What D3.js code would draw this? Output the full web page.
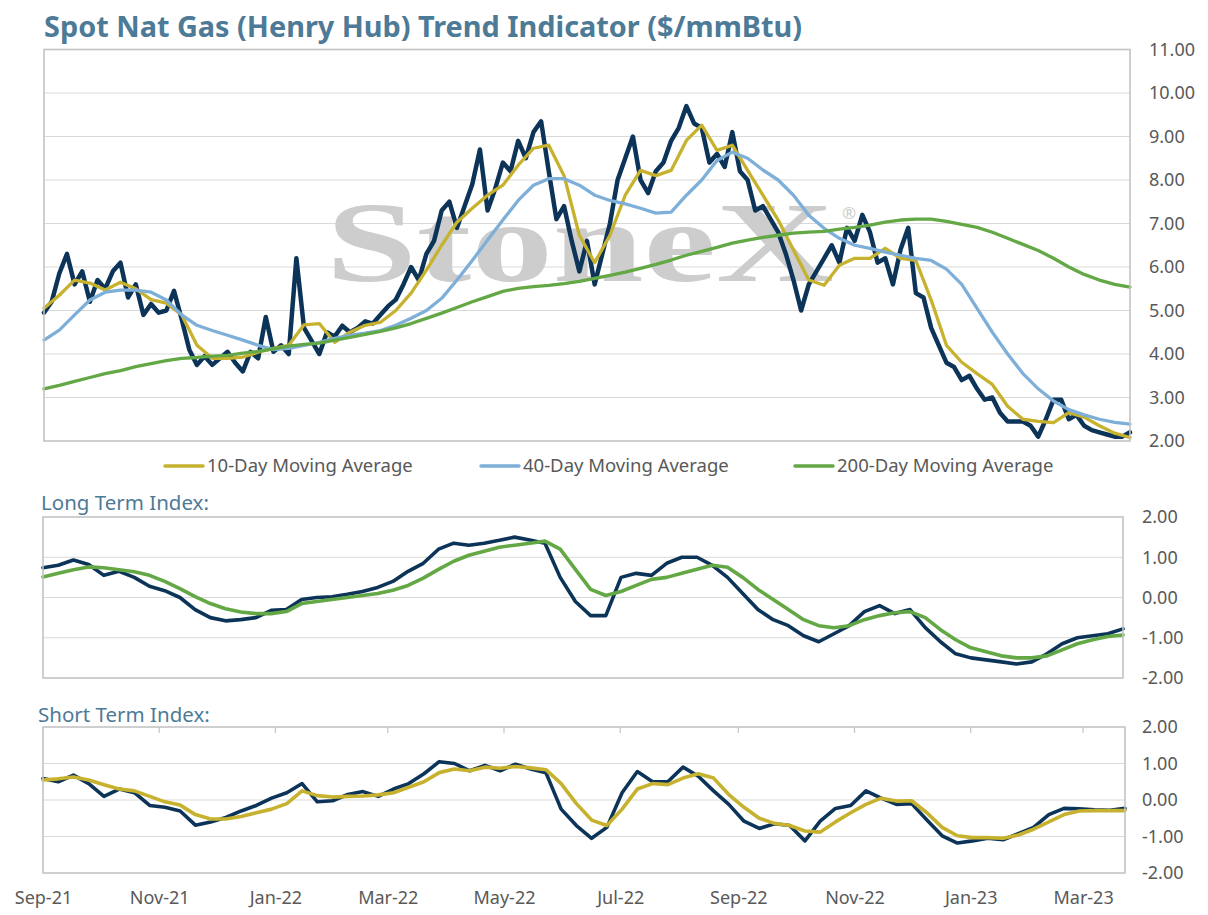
<!DOCTYPE html>
<html>
<head>
<meta charset="utf-8">
<script src="https://cdn.jsdelivr.net/npm/d3@7"></script>
<style>
  body { margin: 0; background: #fff; }
  svg { font-family: "Noto Sans", Lato, sans-serif; }
  .grid line { stroke: #d9d9d9; stroke-width: 1.2; }
  .frame { fill: none; stroke: #c4c4c4; stroke-width: 1.6; }
  .axis text { fill: #595959; font-size: 18px; font-family: "Noto Sans", Lato, sans-serif; }
  .axis path, .axis line { display: none; }
  .series { fill: none; stroke-linejoin: round; stroke-linecap: round; }
  .panel-title { fill: #4d7a96; font-size: 20.5px; }
  .legend text { fill: #595959; font-size: 18.5px; }
</style>
</head>
<body>
<svg id="chart" width="1208" height="915"></svg>
<script>
// ---- data ----
const startDate = new Date(2021, 8, 1);
const endDate = new Date(2023, 2, 23);
const spotStepDays = 4;   // spot price sampled every 4 days
const avgStepDays = 8;    // averages / indexes sampled every 8 days

const spotPrice = [
  4.95, 5.2, 5.85, 6.3, 5.6, 5.9, 5.2, 5.7, 5.5, 5.9,
  6.1, 5.3, 5.6, 4.9, 5.15, 4.95, 5.0, 5.45, 4.8, 4.1,
  3.75, 3.95, 3.75, 3.9, 4.05, 3.8, 3.6, 4.05, 3.9, 4.85,
  4.05, 4.2, 4.0, 6.2, 4.6, 4.3, 4.0, 4.5, 4.4, 4.65,
  4.5, 4.6, 4.75, 4.7, 4.9, 5.1, 5.25, 5.6, 6.0, 5.7,
  6.3, 6.6, 7.3, 7.5, 6.9, 7.4, 7.9, 8.7, 7.3, 7.8,
  8.4, 8.2, 8.9, 8.5, 9.1, 9.35, 8.2, 7.1, 7.4, 6.6,
  5.9, 6.6, 5.6, 6.3, 7.0, 8.0, 8.5, 9.0, 8.0, 7.7,
  8.2, 8.4, 8.9, 9.2, 9.7, 9.3, 9.2, 8.4, 8.6, 8.3,
  9.1, 8.2, 8.0, 7.3, 7.4, 7.1, 6.8, 6.3, 5.7, 5.0,
  5.6, 5.9, 6.2, 6.5, 6.1, 6.9, 6.6, 7.2, 6.8, 6.1,
  6.2, 5.6, 6.4, 6.9, 5.4, 5.3, 4.6, 4.2, 3.8, 3.7,
  3.4, 3.5, 3.2, 2.95, 3.0, 2.65, 2.45, 2.45, 2.45, 2.35,
  2.1, 2.5, 2.95, 2.95, 2.5, 2.6, 2.35, 2.25, 2.2, 2.15,
  2.1, 2.1, 2.2
];

const ma10 = [
  5.05, 5.35, 5.7, 5.63, 5.47, 5.65, 5.5, 5.25, 5.17, 4.9,
  4.2, 3.9, 3.9, 3.93, 4.04, 4.13, 4.2, 4.67, 4.7, 4.27,
  4.5, 4.66, 4.73, 5.0, 5.4, 5.93, 6.5, 7.03, 7.35, 7.65,
  7.88, 8.34, 8.73, 8.8, 8.1, 6.73, 6.1, 6.73, 7.65, 8.22,
  8.1, 8.22, 8.91, 9.26, 8.68, 8.8, 8.22, 7.65, 7.08, 6.39,
  5.7, 5.58, 6.04, 6.2, 6.2, 6.43, 6.2, 6.15, 5.24, 4.2,
  3.81, 3.55, 3.3, 2.8, 2.5, 2.45, 2.42, 2.65, 2.55, 2.35,
  2.18, 2.08
];

const ma40 = [
  4.32, 4.55, 4.9, 5.24, 5.42, 5.47, 5.47, 5.42, 5.24, 4.9,
  4.66, 4.54, 4.43, 4.32, 4.2, 4.1, 4.13, 4.2, 4.27, 4.36,
  4.43, 4.48, 4.54, 4.66, 4.82, 5.0, 5.28, 5.7, 6.15, 6.62,
  7.08, 7.53, 7.88, 8.03, 8.03, 7.88, 7.65, 7.53, 7.45, 7.35,
  7.24, 7.26, 7.65, 8.0, 8.45, 8.64, 8.5, 8.23, 8.0, 7.65,
  7.19, 6.89, 6.66, 6.5, 6.43, 6.34, 6.27, 6.2, 6.15, 5.95,
  5.6, 5.05, 4.5, 4.0, 3.55, 3.2, 2.92, 2.72, 2.6, 2.5,
  2.43, 2.39
];

const ma200 = [
  3.2, 3.28, 3.37, 3.46, 3.55, 3.62, 3.71, 3.78, 3.85, 3.9,
  3.92, 3.95, 3.97, 4.02, 4.06, 4.12, 4.18, 4.22, 4.25, 4.32,
  4.38, 4.45, 4.52, 4.6, 4.7, 4.82, 4.94, 5.07, 5.2, 5.32,
  5.44, 5.51, 5.55, 5.58, 5.62, 5.67, 5.74, 5.81, 5.88, 5.97,
  6.06, 6.16, 6.27, 6.36, 6.45, 6.55, 6.62, 6.68, 6.73, 6.78,
  6.8, 6.82, 6.87, 6.91, 6.96, 7.03, 7.08, 7.1, 7.1, 7.05,
  6.98, 6.91, 6.8, 6.66, 6.52, 6.38, 6.2, 6.0, 5.83, 5.7,
  5.6, 5.54
];

const longTermIdx = [
  0.74, 0.8, 0.93, 0.82, 0.55, 0.65, 0.5, 0.28, 0.17, 0.0,
  -0.3, -0.5, -0.58, -0.55, -0.5, -0.32, -0.3, -0.05, 0.0, 0.02,
  0.08, 0.15, 0.25, 0.4, 0.65, 0.85, 1.2, 1.35, 1.3, 1.35,
  1.42, 1.5, 1.43, 1.35, 0.5, -0.1, -0.45, -0.45, 0.5, 0.6,
  0.55, 0.85, 1.0, 1.0, 0.8, 0.5, 0.1, -0.3, -0.55, -0.7,
  -0.95, -1.1, -0.9, -0.7, -0.35, -0.2, -0.4, -0.3, -0.75, -1.1,
  -1.4, -1.5, -1.55, -1.6, -1.65, -1.6, -1.4, -1.15, -1.0, -0.95,
  -0.9, -0.78
];

const longTermAvg = [
  0.51, 0.6, 0.69, 0.76, 0.74, 0.69, 0.64, 0.55, 0.4, 0.22,
  0.02, -0.15, -0.28, -0.36, -0.4, -0.4, -0.35, -0.15, -0.1, -0.05,
  0.0, 0.05, 0.1, 0.18, 0.3, 0.48, 0.7, 0.9, 1.05, 1.15,
  1.25, 1.3, 1.35, 1.4, 1.2, 0.7, 0.2, 0.05, 0.15, 0.3,
  0.45, 0.5, 0.6, 0.7, 0.8, 0.75, 0.5, 0.2, -0.05, -0.3,
  -0.55, -0.7, -0.75, -0.7, -0.55, -0.45, -0.38, -0.35, -0.5, -0.8,
  -1.05, -1.25, -1.35, -1.45, -1.5, -1.5, -1.45, -1.3, -1.15, -1.05,
  -0.97, -0.93
];

const shortTermIdx = [
  0.59, 0.5, 0.68, 0.45, 0.1, 0.3, 0.2, -0.15, -0.2, -0.3,
  -0.69, -0.6, -0.48, -0.3, -0.15, 0.05, 0.2, 0.45, -0.05, -0.02,
  0.15, 0.23, 0.1, 0.3, 0.45, 0.72, 1.05, 1.0, 0.8, 0.95,
  0.8, 0.98, 0.85, 0.75, -0.25, -0.7, -1.05, -0.75, 0.2, 0.78,
  0.5, 0.5, 0.9, 0.65, 0.25, -0.12, -0.58, -0.78, -0.65, -0.7,
  -1.12, -0.58, -0.23, -0.15, 0.25, 0.05, -0.12, -0.1, -0.55, -0.98,
  -1.18, -1.12, -1.05, -1.09, -0.92, -0.75, -0.4, -0.23, -0.24, -0.27,
  -0.28, -0.23
];

const shortTermAvg = [
  0.55, 0.58, 0.63, 0.55, 0.42, 0.3, 0.25, 0.1, -0.05, -0.14,
  -0.4, -0.52, -0.52, -0.45, -0.35, -0.25, -0.1, 0.25, 0.12, 0.08,
  0.1, 0.11, 0.14, 0.2, 0.35, 0.5, 0.75, 0.85, 0.8, 0.9,
  0.87, 0.92, 0.88, 0.83, 0.45, -0.1, -0.55, -0.7, -0.25, 0.3,
  0.45, 0.42, 0.6, 0.72, 0.6, 0.15, -0.2, -0.5, -0.64, -0.7,
  -0.85, -0.88, -0.6, -0.35, -0.12, 0.05, -0.03, -0.02, -0.35, -0.75,
  -0.98, -1.03, -1.03, -1.05, -0.96, -0.8, -0.6, -0.4, -0.3, -0.29,
  -0.29, -0.29
];

const priceTicks = [2, 3, 4, 5, 6, 7, 8, 9, 10, 11];
const indexTicks = [-2, -1, 0, 1, 2];
const monthTicks = ['2021-09-01', '2021-11-01', '2022-01-01', '2022-03-01', '2022-05-01',
  '2022-07-01', '2022-09-01', '2022-11-01', '2023-01-01', '2023-03-01'];
const legendLabels = ['10-Day Moving Average', '40-Day Moving Average', '200-Day Moving Average'];

// ---- styles / layout ----
const colors = {
  spot: '#0c3458',
  ma10: '#c6b22e',
  ma40: '#7eafd8',
  ma200: '#63a845',
  title: '#4d7a96'
};
const boxes = {
  main: { left: 44, right: 1130, top: 49.5, bottom: 441 },
  long: { left: 43, right: 1123, top: 517, bottom: 678 },
  short: { left: 43, right: 1125, top: 727, bottom: 873 }
};

const svg = d3.select('#chart');
const fmt2 = d => d.toFixed(2);
const parseDay = d3.timeParse('%Y-%m-%d');
const stepDates = (n, step) => d3.range(n).map(i => d3.timeDay.offset(startDate, i * step));

function buildPanel(box, yDomain, yTicks, padding) {
  const x = d3.scaleTime().domain([startDate, endDate]).range([box.left, box.right]);
  const y = d3.scaleLinear().domain(yDomain).range([box.bottom, box.top]);
  const g = svg.append('g');

  g.append('g')
    .attr('class', 'grid')
    .selectAll('line')
    .data(yTicks.slice(1, -1))
    .join('line')
      .attr('x1', box.left)
      .attr('x2', box.right)
      .attr('y1', d => y(d))
      .attr('y2', d => y(d));

  g.append('g')
    .attr('class', 'axis')
    .attr('transform', `translate(${box.right},0)`)
    .call(d3.axisRight(y).tickValues(yTicks).tickFormat(fmt2).tickSize(0).tickPadding(padding));

  return { x, y, g, box };
}

function drawLine(panel, values, step, color, width) {
  const dates = stepDates(values.length, step);
  const line = d3.line()
    .x((d, i) => panel.x(dates[i]))
    .y(d => panel.y(d));
  panel.g.append('path')
    .datum(values)
    .attr('class', 'series')
    .attr('stroke', color)
    .attr('stroke-width', width)
    .attr('d', line);
}

function drawFrame(panel) {
  const b = panel.box;
  panel.g.append('rect')
    .attr('class', 'frame')
    .attr('x', b.left)
    .attr('y', b.top)
    .attr('width', b.right - b.left)
    .attr('height', b.bottom - b.top);
}

// Title
svg.append('text')
  .attr('x', 44)
  .attr('y', 37)
  .attr('fill', colors.title)
  .attr('textLength', 758)
  .attr('lengthAdjust', 'spacingAndGlyphs')
  .style('font-size', '29px')
  .style('font-weight', 'bold')
  .text('Spot Nat Gas (Henry Hub) Trend Indicator ($/mmBtu)');

// Main price panel
const main = buildPanel(boxes.main, [2, 11], priceTicks, 19);

// StoneX watermark
main.g.append('text')
  .attr('x', 326)
  .attr('y', 281)
  .attr('textLength', 508)
  .attr('lengthAdjust', 'spacingAndGlyphs')
  .attr('fill', '#cdcdcd')
  .style('font-family', '"Liberation Serif", "DejaVu Serif", serif')
  .style('font-weight', 'bold')
  .style('font-size', '114px')
  .text('StoneX');
main.g.append('text')
  .attr('x', 842)
  .attr('y', 219)
  .attr('fill', '#cdcdcd')
  .style('font-size', '17px')
  .text('®');

drawLine(main, spotPrice, spotStepDays, colors.spot, 4.5);
drawLine(main, ma10, avgStepDays, colors.ma10, 3.3);
drawLine(main, ma40, avgStepDays, colors.ma40, 3.3);
drawLine(main, ma200, avgStepDays, colors.ma200, 3.3);
drawFrame(main);

// Legend
const legendX = [165, 481, 795];
const legendColors = [colors.ma10, colors.ma40, colors.ma200];
const legend = svg.append('g').attr('class', 'legend');
legendLabels.forEach((label, i) => {
  const item = legend.append('g').attr('transform', `translate(${legendX[i]},466)`);
  item.append('line')
    .attr('x1', 0).attr('x2', 38)
    .attr('stroke', legendColors[i])
    .attr('stroke-width', 3.5)
    .attr('stroke-linecap', 'round');
  item.append('text')
    .attr('x', 42)
    .attr('dy', '0.35em')
    .text(label);
});

// Long term index panel
svg.append('text')
  .attr('class', 'panel-title')
  .attr('x', 41)
  .attr('y', 510)
  .text('Long Term Index:');
const longP = buildPanel(boxes.long, [-2, 2], indexTicks, 19);
drawLine(longP, longTermIdx, avgStepDays, colors.spot, 3.6);
drawLine(longP, longTermAvg, avgStepDays, colors.ma200, 3.6);
drawFrame(longP);

// Short term index panel
svg.append('text')
  .attr('class', 'panel-title')
  .attr('x', 38)
  .attr('y', 722)
  .text('Short Term Index:');
const shortP = buildPanel(boxes.short, [-2, 2], indexTicks, 17);
drawLine(shortP, shortTermIdx, avgStepDays, colors.spot, 3.6);
drawLine(shortP, shortTermAvg, avgStepDays, colors.ma10, 3.6);
drawFrame(shortP);

// small tick marks along top of short term frame
const tickDates = monthTicks.map(parseDay);
shortP.g.append('g')
  .selectAll('line')
  .data(tickDates.slice(1))
  .join('line')
    .attr('x1', d => shortP.x(d))
    .attr('x2', d => shortP.x(d))
    .attr('y1', boxes.short.top)
    .attr('y2', boxes.short.top + 6)
    .attr('stroke', '#c4c4c4')
    .attr('stroke-width', 1.2);

// Date axis under short term panel
shortP.g.append('g')
  .attr('class', 'axis')
  .attr('transform', `translate(0,${boxes.short.bottom})`)
  .call(d3.axisBottom(shortP.x)
    .tickValues(tickDates)
    .tickFormat(d3.timeFormat('%b-%y'))
    .tickSize(0)
    .tickPadding(18))
  .selectAll('text')
    .style('font-size', '18px');
</script>
</body>
</html>
